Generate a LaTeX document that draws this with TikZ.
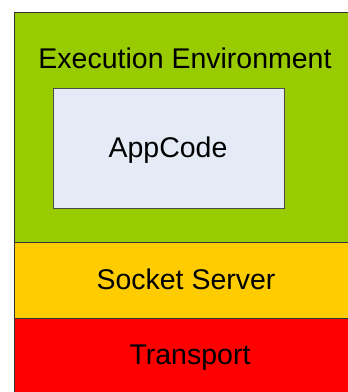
\documentclass[tikz,border=0pt]{standalone}
\usepackage{fontspec}
\setmainfont{Liberation Sans}
\definecolor{envgreen}{HTML}{99CC00}
\definecolor{sockyellow}{HTML}{FFCC00}
\definecolor{transred}{HTML}{FF0000}
\definecolor{appblue}{HTML}{E4EBF7}
\begin{document}
\begin{tikzpicture}[x=1pt,y=-1pt,
  layer/.style={draw=black!80,line width=0.8pt,anchor=north west,inner sep=0pt,minimum width=340pt},
  lbl/.style={font=\fontsize{28.5}{32}\selectfont,text=black,inner sep=0pt}]
\useasboundingbox (0,0) rectangle (348,392);
\clip (0,0) rectangle (348,392);
\node[layer,fill=envgreen,minimum height=230pt] (env) at (14,12) {};
\node[layer,fill=sockyellow,minimum height=76pt] (sock) at (14,242) {};
\node[layer,fill=transred,minimum height=76pt] (trans) at (14,318) {};
\node[draw=black!70,line width=0.8pt,fill=appblue,anchor=north west,inner sep=0pt,minimum width=231pt,minimum height=120pt] (app) at (53,88) {};
\node[lbl] (envt) at (185,58) {Execution Environment};
\node[lbl] (appt) at (168,150) {AppCode};
\node[lbl] (sockt) at (186,279) {Socket Server};
\node[lbl] (transt) at (190,358) {Transport};
\end{tikzpicture}
\end{document}
